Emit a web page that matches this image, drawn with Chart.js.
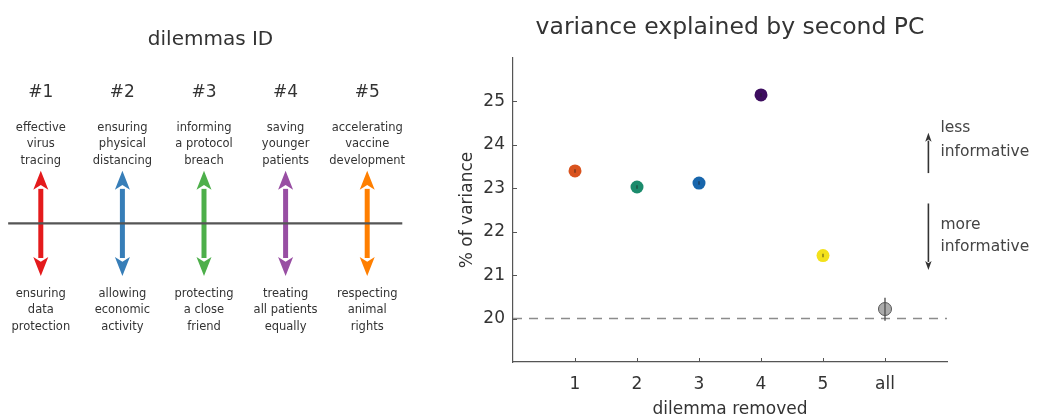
<!DOCTYPE html>
<html><head><meta charset="utf-8">
<script src="https://cdn.jsdelivr.net/npm/chart.js@4.4.1/dist/chart.umd.min.js"></script>
<style>
html,body{margin:0;padding:0;background:#fff;overflow:hidden;width:1037px;height:419px}
#left{position:absolute;left:0;top:0;width:408px;height:419px}
#right{position:absolute;left:430px;top:0;width:607px;height:419px}
</style></head><body>
<div id="left"><canvas id="c1"></canvas></div>
<div id="right"><canvas id="c2"></canvas></div>
<script>
// ---------- data ----------
const dilemmaIds = ['#1','#2','#3','#4','#5'];
const upperLabels = [['effective','virus','tracing'],['ensuring','physical','distancing'],['informing','a protocol','breach'],['saving','younger','patients'],['accelerating','vaccine','development']];
const lowerLabels = [['ensuring','data','protection'],['allowing','economic','activity'],['protecting','a close','friend'],['treating','all patients','equally'],['respecting','animal','rights']];
const dilemmaColors = ['#e41a1c','#377eb8','#4daf4a','#984ea3','#ff7f00'];

const removedLabels = ['1','2','3','4','5','all'];
const variance = [23.4, 23.03, 23.12, 25.15, 21.45, 20.22];
const errLow  = [23.36, 22.99, 23.08, 25.11, 21.41, 19.95];
const errHigh = [23.44, 23.07, 23.16, 25.19, 21.49, 20.48];
const pointColors = ['#d9531e','#1b8b6c','#1866ac','#3d0d5f','#f3e11b','rgba(115,115,115,0.6)'];
const yTicks = [20,21,22,23,24,25];
const chanceLevel = 20;
const lessLabel = ['less','informative'];
const moreLabel = ['more','informative'];

const FONT = "'DejaVu Sans', 'Liberation Sans', Arial, sans-serif";
Chart.defaults.font.family = FONT;
Chart.defaults.color = '#333';

function drawArrow(ctx, x, yFrom, yTo, color, shaftW, headHalf, headLen){
  const dir = yTo < yFrom ? -1 : 1;
  const yBase = yTo - dir*headLen;
  ctx.save();
  ctx.strokeStyle = color; ctx.fillStyle = color; ctx.lineWidth = shaftW; ctx.lineCap='butt';
  ctx.beginPath(); ctx.moveTo(x, yFrom); ctx.lineTo(x, yBase + dir*1); ctx.stroke();
  ctx.beginPath(); ctx.moveTo(x, yTo); ctx.lineTo(x-headHalf, yBase); ctx.lineTo(x, yBase+dir*headLen*0.25); ctx.lineTo(x+headHalf, yBase); ctx.closePath(); ctx.fill();
  ctx.restore();
}

// ---------- left diagram ----------
const leftPlugin = {
  id:'dilemmaDiagram',
  afterDatasetsDraw(chart){
    const {ctx, scales:{x,y}} = chart;
    const meta = chart.getDatasetMeta(0);
    ctx.save();
    ctx.textAlign='center'; ctx.textBaseline='middle'; ctx.fillStyle='#333';
    ctx.font = '20px ' + FONT;
    ctx.fillText('dilemmas ID', x.getPixelForValue(3.08), y.getPixelForValue(3.49));
    const up = y.getPixelForValue(1), down = y.getPixelForValue(-1), base = y.getPixelForValue(0);
    meta.data.forEach((pt,i)=>{
      const px = pt.x;
      drawArrow(ctx, px, base, up, dilemmaColors[i], 5, 7.5, 19);
      drawArrow(ctx, px, base, down, dilemmaColors[i], 5, 7.5, 19);
      ctx.fillStyle='#333';
      ctx.font = '17px ' + FONT;
      ctx.fillText(dilemmaIds[i], px, y.getPixelForValue(2.48));
      ctx.font = '11.5px ' + FONT;
      const t0 = y.getPixelForValue(1.81);
      upperLabels[i].forEach((s,k)=>ctx.fillText(s, px, t0 + k*16.2));
      const b0 = y.getPixelForValue(-1.34);
      lowerLabels[i].forEach((s,k)=>ctx.fillText(s, px, b0 + k*16.5));
    });
    ctx.strokeStyle='#555'; ctx.lineWidth=2.3;
    ctx.beginPath(); ctx.moveTo(x.getPixelForValue(0.6), base); ctx.lineTo(x.getPixelForValue(5.43), base); ctx.stroke();
    ctx.restore();
  }
};

new Chart(document.getElementById('c1'), {
  type:'scatter',
  data:{ datasets:[{ data: dilemmaIds.map((d,i)=>({x:i+1, y:0})), pointRadius:0 }] },
  options:{
    responsive:true, maintainAspectRatio:false, animation:false,
    layout:{padding:0},
    plugins:{legend:{display:false}, tooltip:{enabled:false}},
    scales:{
      x:{type:'linear', min:0.5, max:5.5, display:false},
      y:{type:'linear', min:-3.72, max:4.25, display:false}
    }
  },
  plugins:[leftPlugin]
});

// ---------- right chart ----------
const rightPlugin = {
  id:'pcDecor',
  afterDatasetsDraw(chart){
    const {ctx, chartArea:ca, scales:{x,y}} = chart;
    ctx.save();
    // error bars
    ctx.lineWidth = 1.4;
    variance.forEach((v,i)=>{
      const px = x.getPixelForValue(i+1);
      ctx.strokeStyle = i===5 ? '#555' : 'rgba(30,30,30,0.55)';
      ctx.beginPath(); ctx.moveTo(px, y.getPixelForValue(errLow[i])); ctx.lineTo(px, y.getPixelForValue(errHigh[i])); ctx.stroke();
    });
    // inward ticks
    ctx.strokeStyle='#555'; ctx.lineWidth=1;
    yTicks.forEach(v=>{ const py=Math.round(y.getPixelForValue(v))+0.5; ctx.beginPath(); ctx.moveTo(ca.left, py); ctx.lineTo(ca.left+4, py); ctx.stroke(); });
    removedLabels.forEach((l,i)=>{ const px=Math.round(x.getPixelForValue(i+1))+0.5; ctx.beginPath(); ctx.moveTo(px, ca.bottom); ctx.lineTo(px, ca.bottom-4); ctx.stroke(); });
    // title
    ctx.fillStyle='#333'; ctx.textAlign='center'; ctx.textBaseline='middle';
    ctx.font='23.5px ' + FONT;
    ctx.fillText('variance explained by second PC', (ca.left+ca.right)/2, ca.top-30);
    // side arrows
    const ax = x.getPixelForValue(6.7);
    drawArrow(ctx, ax, y.getPixelForValue(23.35), y.getPixelForValue(24.28), '#333', 1.6, 3.2, 9);
    drawArrow(ctx, ax, y.getPixelForValue(22.65), y.getPixelForValue(21.12), '#333', 1.6, 3.2, 9);
    ctx.textAlign='left'; ctx.fillStyle='#444';
    ctx.font='15.5px ' + FONT;
    ctx.fillText(lessLabel[0], ax+12, y.getPixelForValue(24.4));
    ctx.fillText(lessLabel[1], ax+12, y.getPixelForValue(23.84));
    ctx.fillText(moreLabel[0], ax+12, y.getPixelForValue(22.15));
    ctx.fillText(moreLabel[1], ax+12, y.getPixelForValue(21.64));
    ctx.restore();
  }
};

new Chart(document.getElementById('c2'), {
  type:'scatter',
  data:{ datasets:[
    { data: variance.map((v,i)=>({x:i+1, y:v})), order:1,
      pointRadius:6.5, pointHoverRadius:6.5,
      backgroundColor: pointColors,
      borderColor: pointColors.map((c,i)=> i===5 ? '#555' : c),
      borderWidth: pointColors.map((c,i)=> i===5 ? 1 : 0) },
    { type:'line', data:[{x:0,y:chanceLevel},{x:7,y:chanceLevel}], order:2,
      borderColor:'#8c8c8c', borderWidth:1.6, borderDash:[9,7], pointRadius:0, fill:false }
  ]},
  options:{
    responsive:true, maintainAspectRatio:false, animation:false,
    layout:{padding:{left:0, right:90, top:58, bottom:0}},
    plugins:{legend:{display:false}, tooltip:{enabled:false}},
    scales:{
      x:{type:'linear', min:0, max:7,
        afterBuildTicks(s){ s.ticks = removedLabels.map((l,i)=>({value:i+1})); },
        afterFit(s){ s.height = 57; },
        ticks:{ callback:(v)=> removedLabels[v-1] ?? '', font:{size:17}, color:'#333', padding:12, maxRotation:0, autoSkip:false },
        grid:{ display:true, drawOnChartArea:false, drawTicks:false },
        border:{ display:true, color:'#555', width:1.2 },
        title:{ display:true, text:'dilemma removed', font:{size:17, lineHeight:1}, color:'#333', padding:{top:0,bottom:0.5} }
      },
      y:{type:'linear', min:19, max:26,
        afterBuildTicks(s){ s.ticks = yTicks.map(v=>({value:v})); },
        afterFit(s){ s.width = 83; },
        ticks:{ font:{size:17}, color:'#333', padding:8 },
        grid:{ display:true, drawOnChartArea:false, drawTicks:false },
        border:{ display:true, color:'#555', width:1.2 },
        title:{ display:true, text:'% of variance', font:{size:17}, color:'#333', padding:{top:27,bottom:0} }
      }
    }
  },
  plugins:[rightPlugin]
});
</script>
</body></html>
